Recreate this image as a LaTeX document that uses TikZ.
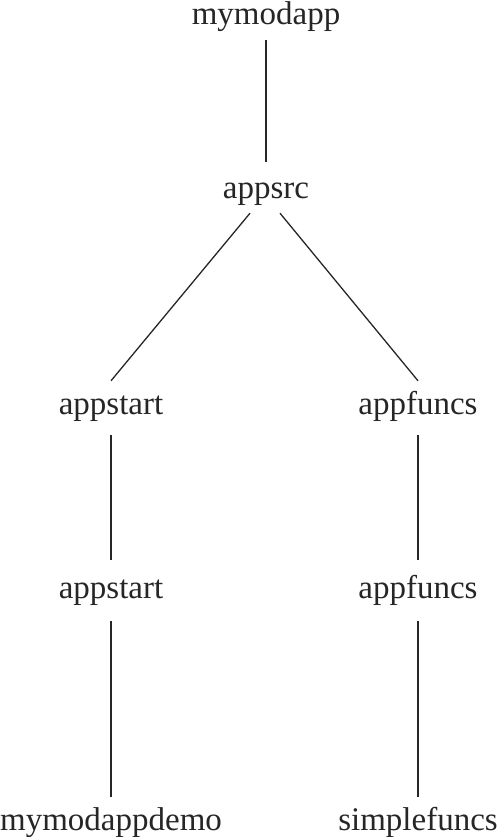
\documentclass[tikz,border=0pt]{standalone}
\usepackage{fontspec}
\setmainfont{Liberation Serif}
\begin{document}
\begin{tikzpicture}[
  lbl/.style={anchor=base, inner xsep=0pt, inner ysep=4pt, text height=24pt, text depth=8pt, font=\fontsize{33pt}{36pt}\selectfont, text=black!85},
  edge/.style={line width=1.3pt, draw=black!85}
]
\useasboundingbox (0pt,0pt) rectangle (498pt,-837pt);
\node[lbl] (root) at (266pt,-25pt) {mymodapp};
\node[lbl] (src) at (266pt,-198pt) {appsrc};
\node[lbl] (start1) at (111pt,-414pt) {appstart};
\node[lbl] (funcs1) at (418pt,-414pt) {appfuncs};
\node[lbl] (start2) at (111pt,-598pt) {appstart};
\node[lbl] (funcs2) at (418pt,-598pt) {appfuncs};
\node[lbl] (demo) at (111pt,-830pt) {mymodappdemo};
\node[lbl] (simple) at (418pt,-830pt) {simplefuncs};
\draw[edge] ([yshift=-3pt]root.south) -- ([yshift=8pt]src.north);
\draw[edge] ([xshift=-16pt,yshift=-3pt]src.south) -- ([yshift=5pt]start1.north);
\draw[edge] ([xshift=14pt,yshift=-3pt]src.south) -- ([yshift=5pt]funcs1.north);
\draw[edge] ([yshift=-9pt]start1.south) -- ([yshift=10pt]start2.north);
\draw[edge] ([yshift=-9pt]funcs1.south) -- ([yshift=10pt]funcs2.north);
\draw[edge] ([yshift=-11pt]start2.south) -- ([yshift=5pt]demo.north);
\draw[edge] ([yshift=-11pt]funcs2.south) -- ([yshift=5pt]simple.north);
\end{tikzpicture}
\end{document}
